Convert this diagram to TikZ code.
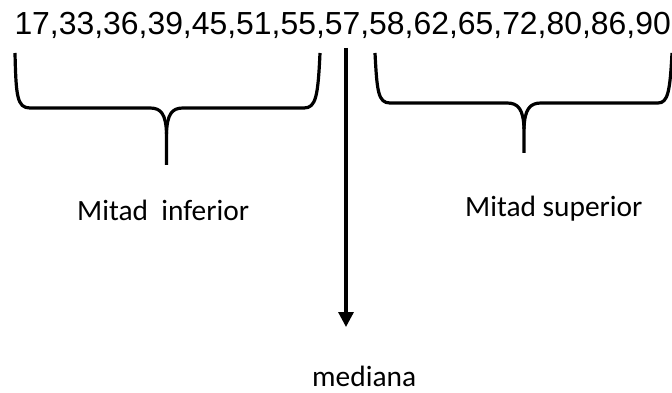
\documentclass[tikz,border=0pt]{standalone}
\usepackage{fontspec}
\setmainfont{Liberation Sans}
\newfontfamily\calib{Carlito}
\usetikzlibrary{arrows.meta}
\tikzset{
  brace/.style={line width=3.2pt, line join=round},
  numtext/.style={inner sep=0pt, anchor=base west, font=\fontsize{31.9}{35}\selectfont},
  lbl/.style={inner sep=0pt, anchor=base west, font=\calib\fontsize{29.4}{32}\selectfont},
  medarrow/.style={line width=3.2pt, -{Triangle[width=15pt,length=15pt]}}
}
\begin{document}
\begin{tikzpicture}[x=1pt,y=-1pt]
\useasboundingbox (0,0) rectangle (672,393);
\node[numtext] (nums) at (14.3,35) {17,33,36,39,45,51,55,57,58,62,65,72,80,86,90};
\node[lbl] (inf) at (77,220) {Mitad\ \ inferior};
\node[lbl] (sup) at (465,216) {Mitad superior};
\node[lbl] (med) at (312,386) {mediana};
% left brace
\draw[brace] (15,53) .. controls (16,96) and (17,108) .. (30,108) -- (150,108)
  .. controls (161,108) and (166,114) .. (166.5,134) -- (166.5,165);
\draw[brace] (166.5,134) .. controls (167,114) and (172,108) .. (183,108) -- (304,108)
  .. controls (316,108) and (318,96) .. (320,53);
% right brace
\draw[brace] (375,53) .. controls (377,91) and (378,103) .. (390,103) -- (507,103)
  .. controls (518,103) and (523.5,109) .. (524,129) -- (524,153);
\draw[brace] (524,129) .. controls (524.5,109) and (530,103) .. (541,103) -- (658,103)
  .. controls (668,103) and (670,91) .. (672,53);
% median arrow
\coordinate (atop) at (346,48);
\coordinate (atip) at (346,327);
\draw[medarrow] (atop) -- (atip);
\end{tikzpicture}
\end{document}
